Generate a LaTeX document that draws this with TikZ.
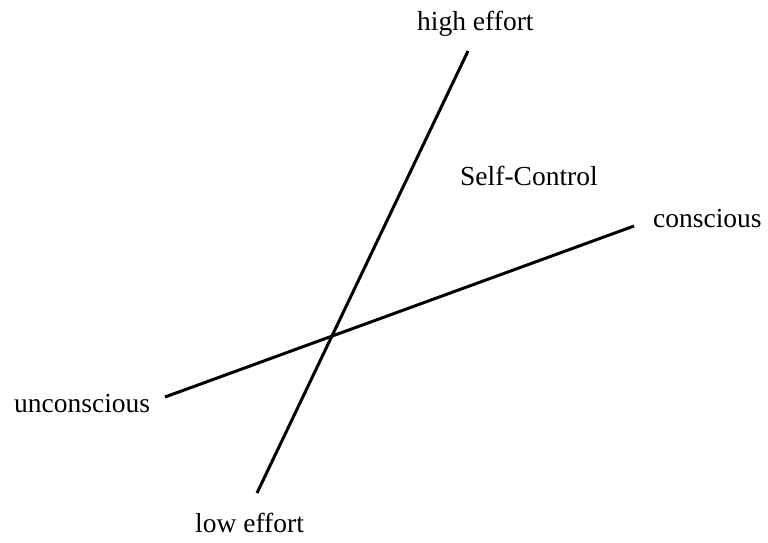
\documentclass[tikz,border=0pt]{standalone}
\usepackage{fontspec}
\setmainfont{Liberation Serif}
\begin{document}
\begin{tikzpicture}[x=1pt,y=-1pt,
  lbl/.style={inner sep=0pt,anchor=base west,font=\fontsize{27.5}{33}\selectfont},
  axis/.style={line width=3pt}]
\useasboundingbox (0,0) rectangle (768,542);
\coordinate (etop) at (468,51);
\coordinate (ebot) at (257,493);
\coordinate (cleft) at (165,397);
\coordinate (cright) at (634,226);
\draw[axis] (ebot) -- (etop);
\draw[axis] (cleft) -- (cright);
\node[lbl] (high) at (417,30) {high effort};
\node[lbl] (low) at (195,532) {low effort};
\node[lbl] (uncon) at (14,412) {unconscious};
\node[lbl] (con) at (653,227) {conscious};
\node[lbl] (self) at (460,185) {Self-Control};
\end{tikzpicture}
\end{document}
